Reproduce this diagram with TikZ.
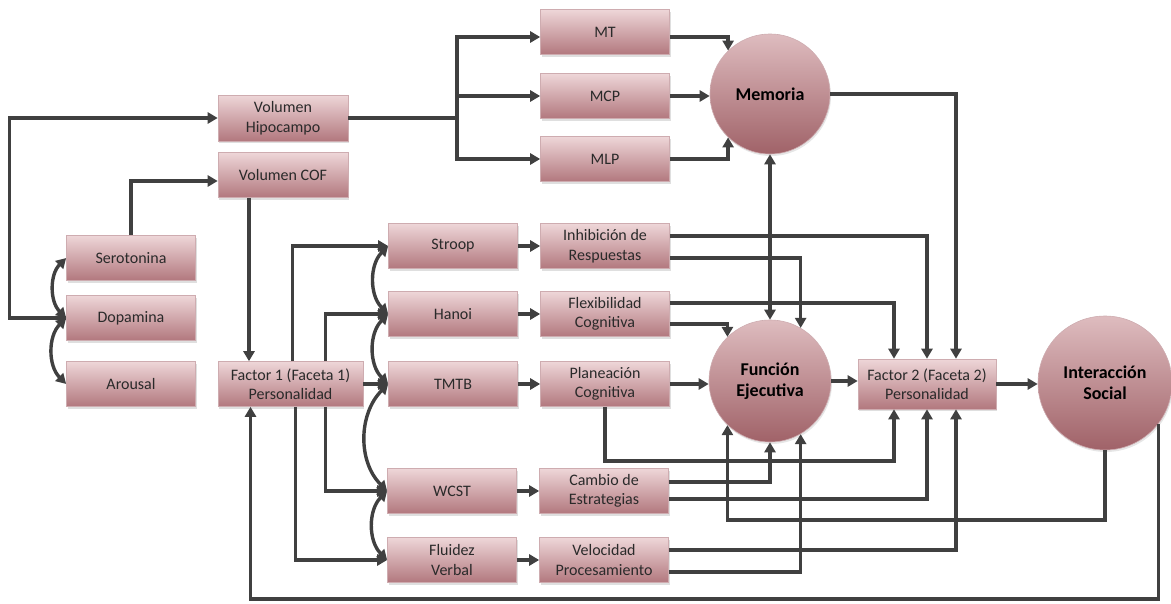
\documentclass[tikz,border=0pt]{standalone}
\usepackage{fontspec}
\setmainfont{Carlito}
\usetikzlibrary{arrows.meta,shadows,calc}

\definecolor{boxtop}{RGB}{238,214,216}
\definecolor{boxbot}{RGB}{178,120,126}
\definecolor{boxedge}{RGB}{206,172,176}
\definecolor{circtop}{RGB}{222,188,191}
\definecolor{circbot}{RGB}{160,98,104}
\definecolor{wirecol}{RGB}{64,64,64}
\definecolor{ink}{RGB}{42,42,42}

\tikzset{
  box/.style={rectangle, minimum width=129pt, minimum height=45pt, inner sep=0pt,
    align=center, top color=boxtop, bottom color=boxbot, draw=boxedge, line width=0.6pt,
    font=\fontsize{16}{19.5}\selectfont, text=ink,
    drop shadow={opacity=0.25, shadow xshift=1pt, shadow yshift=-2pt}},
  hub/.style={circle, minimum size=#1, inner sep=0pt, align=center,
    top color=circtop, bottom color=circbot, draw=boxedge, line width=0.6pt,
    font=\fontsize{18}{21}\bfseries\selectfont, text=black,
    drop shadow={opacity=0.2, shadow xshift=1pt, shadow yshift=-2pt}},
  wire/.style={draw=wirecol, line width=3.4pt},
  arr/.style={wire, -{Triangle[length=10pt,width=11pt]}},
  biarr/.style={wire, {Triangle[length=10pt,width=11pt]}-{Triangle[length=10pt,width=11pt]}},
}

\begin{document}
\begin{tikzpicture}[x=1pt,y=1pt]
\useasboundingbox (0,0) rectangle (1171,-603);

% neurobiological level
\node[box, minimum width=130pt, minimum height=46pt] (hip) at (283,-118) {Volumen\\Hipocampo};
\node[box, minimum width=130pt] (cof) at (283,-175) {Volumen COF};
\node[box] (ser) at (131,-258) {Serotonina};
\node[box] (dop) at (131,-318) {Dopamina};
\node[box] (aro) at (131,-384) {Arousal};
\node[box, minimum width=145pt] (f1) at (290.5,-384) {Factor 1 (Faceta 1)\\Personalidad};

% memory
\node[box] (mt)  at (605,-32)  {MT};
\node[box] (mcp) at (605,-96)  {MCP};
\node[box] (mlp) at (605,-159) {MLP};
\node[hub=120pt] (mem) at (770,-94) {Memoria};

% tasks and executive measures
\node[box] (stroop)  at (453,-246) {Stroop};
\node[box] (inh)     at (605,-246) {Inhibición de\\Respuestas};
\node[box] (hanoi)   at (453,-314) {Hanoi};
\node[box] (flex)    at (605,-314) {Flexibilidad\\Cognitiva};
\node[box] (tmtb)    at (453,-384) {TMTB};
\node[box] (plan)    at (605,-384) {Planeación\\Cognitiva};
\node[box] (wcst)    at (452,-491) {WCST};
\node[box] (cambio)  at (604,-491) {Cambio de\\Estrategias};
\node[box] (fluidez) at (452,-560) {Fluidez\\Verbal};
\node[box] (vel)     at (604,-560) {Velocidad\\Procesamiento};

\node[hub=122pt] (fe) at (770,-381) {Función\\Ejecutiva};
\node[box, minimum width=138pt, minimum height=50pt] (f2) at (927,-384) {Factor 2 (Faceta 2)\\Personalidad};
\node[hub=134pt] (inter) at (1105,-383) {Interacción\\Social};

% hippocampus to memory systems
\coordinate (hs) at (457,-118);
\draw[wire] (hip.east) -- (hs);
\draw[arr] (hs) |- ([yshift=-5pt]mt.west);
\draw[arr] (hs) |- (mcp.west);
\draw[arr] (hs) |- (mlp.west);
\draw[arr] ([yshift=-5pt]mt.east) -| (mem.134);
\draw[arr] (mcp.east) -- (mcp.east -| mem.west);
\draw[arr] (mlp.east) -| (mem.226);
\draw[arr] (mem.east) -| ([xshift=29pt]f2.north);
\draw[biarr] (mem.south) -- (fe.north);

% neurotransmitters
\draw[arr] (dop.west) -- ++(-57,0) |- (hip.west);
\draw[arr] (ser.north) |- ([yshift=-6pt]cof.west);
\coordinate (cofout) at ([xshift=-34pt]cof.south);
\draw[arr] (cofout) -- (cofout |- f1.north);
\draw[biarr] (ser.west) to[out=225,in=135] (dop.west);
\draw[biarr] (dop.west) to[out=225,in=135] (aro.west);

% factor 1 to tasks
\draw[arr] ([xshift=2pt]f1.north) |- (stroop.west);
\draw[arr] ([xshift=35pt]f1.north) |- (hanoi.west);
\draw[arr] (f1.east) -- (tmtb.west);
\draw[arr] ([xshift=35pt]f1.south) |- (wcst.west);
\draw[arr] ([xshift=5pt]f1.south) |- (fluidez.west);
\foreach \a/\b in {stroop/hanoi, hanoi/tmtb, tmtb/wcst, wcst/fluidez}
  \draw[biarr] (\a.west) to[out=225,in=135] (\b.west);

% tasks to measures
\foreach \a/\b in {stroop/inh, hanoi/flex, tmtb/plan, wcst/cambio, fluidez/vel}
  \draw[arr] (\a.east) -- (\b.west);

% measures to executive function and factor 2
\draw[arr] ([yshift=10pt]inh.east) -| (f2.north);
\draw[arr] ([yshift=-12pt]inh.east) -| (fe.60);
\draw[arr] ([yshift=11pt]flex.east) -| ([xshift=-33pt]f2.north);
\draw[arr] ([yshift=-10pt]flex.east) -| (fe.134);
\draw[arr] (plan.east) -- (plan.east -| fe.west);
\draw[arr] (plan.south) -- (plan.south |- 0,-461) -| ([xshift=-33pt]f2.south);
\draw[arr] ([yshift=9pt]cambio.east) -| (fe.south);
\draw[arr] ([yshift=-8pt]cambio.east) -| (f2.south);
\draw[arr] ([yshift=10pt]vel.east) -| ([xshift=29pt]f2.south);
\draw[arr] ([yshift=-12pt]vel.east) -| (fe.-60);

% executive function, factor 2, social interaction
\draw[arr] (fe.east) -- (fe.east -| f2.west);
\draw[arr] (f2.east) -- (f2.east -| inter.west);
\draw[arr] (inter.south) -- (inter.south |- 0,-520) -| (fe.226);
\draw[arr] (inter.-37) -- (inter.-37 |- 0,-599) -| ([xshift=-40pt]f1.south);
\end{tikzpicture}
\end{document}
